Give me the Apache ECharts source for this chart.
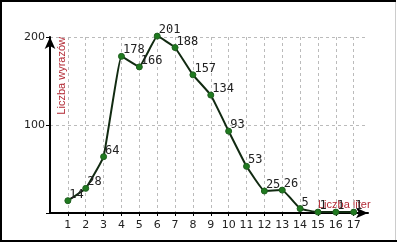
<!DOCTYPE html>
<html>
<head>
<meta charset="utf-8">
<script src="https://cdn.jsdelivr.net/npm/echarts@6/dist/echarts.min.js"></script>
<style>
html,body{margin:0;padding:0;background:#fff;}
#c{width:400px;height:244px;}
</style>
</head>
<body>
<div id="c"></div>
<script>
var categories = [1, 2, 3, 4, 5, 6, 7, 8, 9, 10, 11, 12, 13, 14, 15, 16, 17];
var wordCounts = [14, 28, 64, 178, 166, 201, 188, 157, 134, 93, 53, 25, 26, 5, 1, 1, 1];
var yTicks = [100, 200];
var xTitle = 'Liczba liter';
var yTitle = 'Liczba wyrazów';

var chart = echarts.init(document.getElementById('c'), null, {renderer: 'canvas'});
var seriesData = categories.map(function (c, i) { return [c, wordCounts[i]]; });

chart.setOption({
  animation: false,
  backgroundColor: '#fff',
  grid: {left: 50, top: 37, width: 318, height: 176, containLabel: false},
  xAxis: {
    type: 'value', min: 0, max: 17.8, interval: 1,
    axisLine: {show: true, symbol: ['none', 'arrow'], symbolSize: [8, 12], lineStyle: {color: '#000', width: 2}},
    axisTick: {show: true, length: 3, lineStyle: {color: '#000'}},
    axisLabel: {
      color: '#222', fontFamily: 'DejaVu Sans', fontSize: 11, margin: 7,
      showMinLabel: false, showMaxLabel: false,
      formatter: function (v) { return categories.indexOf(v) >= 0 ? String(v) : ''; }
    },
    splitLine: {show: true, showMinLine: false, showMaxLine: false, lineStyle: {color: '#bbb', type: [3, 3], width: 1}}
  },
  yAxis: {
    type: 'value', min: 0, max: 200, interval: 100,
    axisLine: {show: true, symbol: ['none', 'arrow'], symbolSize: [8, 12], lineStyle: {color: '#000', width: 2}},
    axisTick: {show: true, length: 4, lineStyle: {color: '#000'}},
    axisLabel: {
      color: '#222', fontFamily: 'DejaVu Sans', fontSize: 11, margin: 5,
      formatter: function (v) { return yTicks.indexOf(v) >= 0 ? String(v) : ''; }
    },
    splitLine: {show: true, showMinLine: false, lineStyle: {color: '#bbb', type: [3, 3], width: 1}}
  },
  graphic: [
    {type: 'line', shape: {x1: 1, y1: 1, x2: 396, y2: 1}, style: {stroke: '#000', lineWidth: 2}, silent: true},
    {type: 'line', shape: {x1: 1, y1: 0, x2: 1, y2: 242}, style: {stroke: '#000', lineWidth: 2}, silent: true},
    {type: 'line', shape: {x1: 0, y1: 241, x2: 397, y2: 241}, style: {stroke: '#000', lineWidth: 2}, silent: true},
    {type: 'line', shape: {x1: 395.5, y1: 2, x2: 395.5, y2: 240}, style: {stroke: '#ccc', lineWidth: 1}, silent: true},
    {type: 'text', x: 62, y: 37, rotation: Math.PI / 2, style: {text: yTitle, fill: '#b22a35', font: '11px "Liberation Sans", Arial', align: 'right', verticalAlign: 'middle'}},
    {type: 'text', x: 318, y: 205, style: {text: xTitle, fill: '#b22a35', font: '11px "Liberation Sans", Arial', align: 'left', verticalAlign: 'middle'}}
  ],
  series: [{
    type: 'line',
    data: seriesData,
    smooth: 0.08,
    clip: false,
    symbol: 'circle',
    symbolSize: 6,
    lineStyle: {color: '#112a11', width: 2},
    itemStyle: {color: '#1f7a1f', borderColor: '#1f5f1f', borderWidth: 1},
    label: {
      show: true, position: 'right', distance: 0, offset: [-2, -6],
      color: '#222', fontFamily: 'DejaVu Sans Mono', fontSize: 12
    },
    z: 5
  }]
});
</script>
</body>
</html>
